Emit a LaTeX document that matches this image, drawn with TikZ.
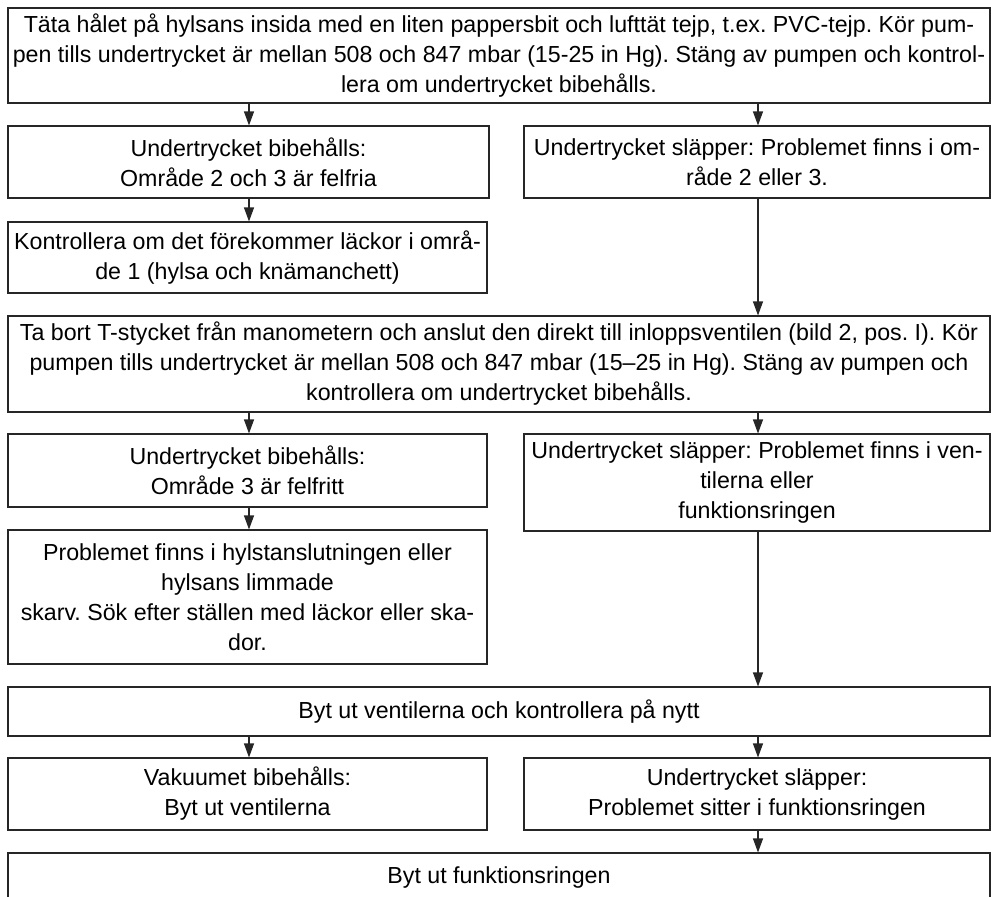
\documentclass[tikz,border=0pt]{standalone}
\usepackage{fontspec}
\setmainfont{Liberation Sans}
\usetikzlibrary{arrows.meta}
\frenchspacing
\begin{document}
\begin{tikzpicture}[x=1pt,y=-1pt,
  box/.style={draw=black!85, line width=1.1pt, align=center, inner sep=0pt,
    font=\fontsize{23.2}{30}\selectfont},
  wide/.style={minimum width=982pt},
  lcol/.style={minimum width=479pt},
  rcol/.style={minimum width=466pt},
  arr/.style={draw=black!85, line width=1.1pt, -{Triangle[length=14pt,width=10pt]}}]
\useasboundingbox (0,0) rectangle (991,897);
\coordinate (cl) at (249,0);
\coordinate (cr) at (758,0);

\node[box, wide, minimum height=95pt] (b1) at (499,55.5)
  {Täta hålet på hylsans insida med en liten pappersbit och lufttät tejp, t.ex. PVC-tejp. Kör pum-\\
   pen tills undertrycket är mellan 508 och 847 mbar (15-25 in Hg). Stäng av pumpen och kontrol-\\
   lera om undertrycket bibehålls.};
\node[box, minimum width=481pt, minimum height=72pt] (b2l) at (248.5,162)
  {Undertrycket bibehålls:\\Område 2 och 3 är felfria};
\node[box, rcol, minimum height=72pt] (b2r) at (757,162)
  {Undertrycket släpper: Problemet finns i om-\\råde 2 eller 3.};
\node[box, lcol, minimum height=71pt] (b3l) at (247.5,257.5)
  {Kontrollera om det förekommer läckor i områ-\\de 1 (hylsa och knämanchett)};
\node[box, wide, minimum height=96pt] (b4) at (499,364)
  {Ta bort T-stycket från manometern och anslut den direkt till inloppsventilen (bild 2, pos. I). Kör\\
   pumpen tills undertrycket är mellan 508 och 847 mbar (15–25 in Hg). Stäng av pumpen och\\
   kontrollera om undertrycket bibehålls.};
\node[box, lcol, minimum height=73pt] (b5l) at (247.5,470.5)
  {Undertrycket bibehålls:\\Område 3 är felfritt};
\node[box, rcol, minimum height=97pt] (b5r) at (757,482.5)
  {Undertrycket släpper: Problemet finns i ven-\\tilerna eller\\funktionsringen};
\node[box, lcol, minimum height=134pt] (b6l) at (247.5,597)
  {Problemet finns i hylstanslutningen eller\\hylsans limmade\\skarv. Sök efter ställen med läckor eller ska-\\dor.};
\node[box, wide, minimum height=49pt] (b7) at (499,711.5)
  {Byt ut ventilerna och kontrollera på nytt};
\node[box, lcol, minimum height=72pt] (b8l) at (247.5,794)
  {Vakuumet bibehålls:\\Byt ut ventilerna};
\node[box, rcol, minimum height=72pt] (b8r) at (757,794)
  {Undertrycket släpper:\\Problemet sitter i funktionsringen};
\node[box, wide, minimum height=49pt] (b9) at (499,877.5)
  {Byt ut funktionsringen};

\draw[arr] (b1.south -| cl) -- (b2l.north -| cl);
\draw[arr] (b1.south -| cr) -- (b2r.north -| cr);
\draw[arr] (b2l.south -| cl) -- (b3l.north -| cl);
\draw[arr] (b2r.south -| cr) -- (b4.north -| cr);
\draw[arr] (b4.south -| cl) -- (b5l.north -| cl);
\draw[arr] (b4.south -| cr) -- (b5r.north -| cr);
\draw[arr] (b5l.south -| cl) -- (b6l.north -| cl);
\draw[arr] (b5r.south -| cr) -- (b7.north -| cr);
\draw[arr] (b7.south -| cl) -- (b8l.north -| cl);
\draw[arr] (b7.south -| cr) -- (b8r.north -| cr);
\draw[arr] (b8r.south -| cr) -- (b9.north -| cr);
\end{tikzpicture}
\end{document}
